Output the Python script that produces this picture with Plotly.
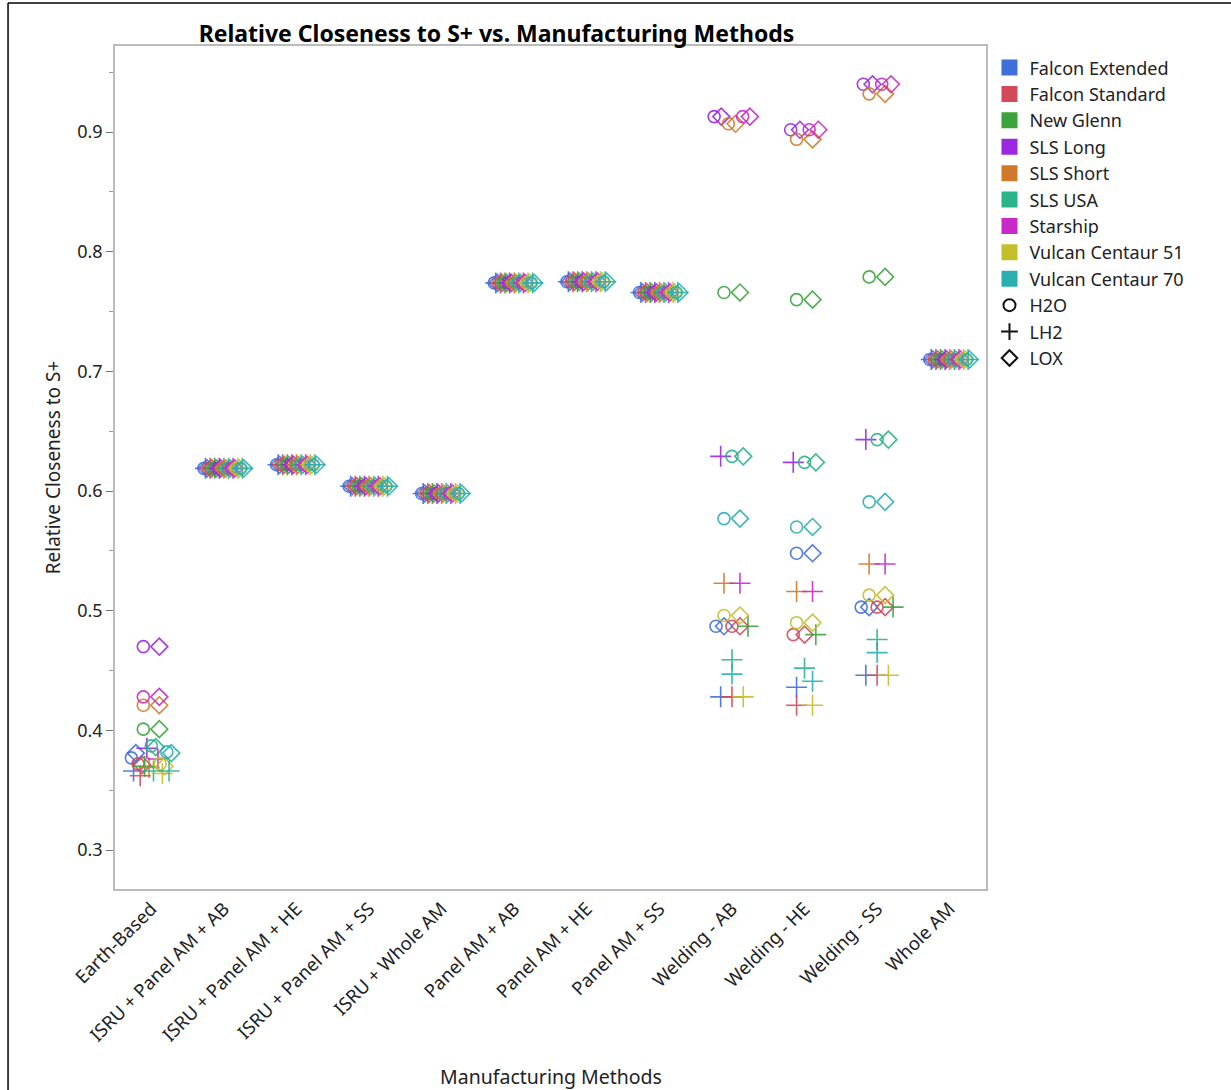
import numpy as np
import plotly.graph_objects as go

methods = ["Earth-Based", "ISRU + Panel AM + AB", "ISRU + Panel AM + HE", "ISRU + Panel AM + SS",
           "ISRU + Whole AM", "Panel AM + AB", "Panel AM + HE", "Panel AM + SS",
           "Welding - AB", "Welding - HE", "Welding - SS", "Whole AM"]
vehicles = ["Falcon Extended", "Falcon Standard", "New Glenn", "SLS Long", "SLS Short",
            "SLS USA", "Starship", "Vulcan Centaur 51", "Vulcan Centaur 70"]
propellants = ["H2O", "LH2", "LOX"]

vehicle_colors = ["#3F6FDB", "#D04A5A", "#3CA33C", "#9B27E0", "#CF7A2A",
                  "#2BB38C", "#C82AC8", "#C4BE2A", "#2AAFB0"]
prop_symbols = ["circle-open", "cross-thin-open", "diamond-open"]
prop_sizes = [12, 15, 13]

# values ordered vehicle-major: [H2O, LH2, LOX] for each vehicle
earth_based = [0.377, 0.366, 0.381, 0.372, 0.362, 0.371, 0.401, 0.370, 0.401,
               0.470, 0.385, 0.470, 0.421, 0.369, 0.421, 0.387, 0.366, 0.386,
               0.428, 0.376, 0.428, 0.372, 0.364, 0.370, 0.382, 0.366, 0.381]
isru_panel_ab = [0.619] * 27
isru_panel_he = [0.622] * 27
isru_panel_ss = [0.604] * 27
isru_whole_am = [0.598] * 27
panel_ab = [0.774] * 27
panel_he = [0.775] * 27
panel_ss = [0.766] * 27
welding_ab = [0.487, 0.428, 0.487, 0.487, 0.428, 0.487, 0.766, 0.487, 0.766,
              0.913, 0.629, 0.913, 0.907, 0.523, 0.907, 0.629, 0.459, 0.629,
              0.913, 0.523, 0.913, 0.496, 0.428, 0.496, 0.577, 0.447, 0.577]
welding_he = [0.548, 0.436, 0.548, 0.480, 0.421, 0.480, 0.760, 0.480, 0.760,
              0.902, 0.624, 0.902, 0.894, 0.516, 0.894, 0.624, 0.452, 0.624,
              0.902, 0.516, 0.902, 0.490, 0.421, 0.490, 0.570, 0.441, 0.570]
welding_ss = [0.503, 0.446, 0.503, 0.503, 0.446, 0.503, 0.779, 0.503, 0.779,
              0.940, 0.643, 0.940, 0.932, 0.539, 0.932, 0.643, 0.476, 0.643,
              0.940, 0.539, 0.940, 0.513, 0.446, 0.513, 0.591, 0.465, 0.591]
whole_am = [0.710] * 27

method_values = [earth_based, isru_panel_ab, isru_panel_he, isru_panel_ss, isru_whole_am,
                 panel_ab, panel_he, panel_ss, welding_ab, welding_he, welding_ss, whole_am]


def jitter_offsets(vals, tol=0.0065, step=0.22, max_span=0.55):
    order = sorted(range(len(vals)), key=lambda i: (vals[i], i))
    clusters, cur = [], [order[0]]
    for i in order[1:]:
        if vals[i] - vals[cur[-1]] <= tol:
            cur.append(i)
        else:
            clusters.append(cur)
            cur = [i]
    clusters.append(cur)
    off = [0.0] * len(vals)
    for c in clusters:
        n = len(c)
        if n == 1:
            continue
        span = min(max_span, step * np.sqrt(n - 1))
        for k, i in enumerate(sorted(c)):
            off[i] = -span / 2 + span * k / (n - 1)
    return off


offsets = [jitter_offsets(v) for v in method_values]

fig = go.Figure()
for vi, veh in enumerate(vehicles):
    for pi, prop in enumerate(propellants):
        idx = vi * 3 + pi
        xs = [m + offsets[m][idx] for m in range(len(methods))]
        ys = [method_values[m][idx] for m in range(len(methods))]
        fig.add_trace(go.Scatter(
            x=xs, y=ys, mode="markers", showlegend=False,
            name=f"{veh} {prop}",
            marker=dict(symbol=prop_symbols[pi], size=prop_sizes[pi],
                        color=vehicle_colors[vi], line=dict(width=1.6, color=vehicle_colors[vi]),
                        opacity=0.9),
            hovertemplate=f"{veh} / {prop}<br>%{{y:.3f}}<extra></extra>",
        ))

# legend entries
for vi, veh in enumerate(vehicles):
    fig.add_trace(go.Scatter(x=[None], y=[None], mode="markers", name=veh,
                             marker=dict(symbol="square", size=16, color=vehicle_colors[vi])))
for pi, prop in enumerate(propellants):
    fig.add_trace(go.Scatter(x=[None], y=[None], mode="markers", name=prop,
                             marker=dict(symbol=prop_symbols[pi], size=12, color="#111111",
                                         line=dict(width=2, color="#111111"))))

font_family = "Noto Sans"
fig.update_layout(
    width=1231, height=1090,
    margin=dict(l=115, r=245, t=46, b=201),
    paper_bgcolor="white", plot_bgcolor="white",
    font=dict(family=font_family, size=15, color="#222222"),
    title=dict(text="Relative Closeness to S+ vs. Manufacturing Methods",
               font=dict(family=font_family, size=23, color="#000000", weight=700),
               x=0.438, xref="paper", xanchor="center", y=1 - 34 / 1090, yref="container", yanchor="middle"),
    legend=dict(x=1.004, y=0.996, xanchor="left", yanchor="top", font=dict(size=18, color="#222222"),
                tracegroupgap=0, itemsizing="trace", bgcolor="rgba(0,0,0,0)"),
    xaxis=dict(range=[-0.5, 11.5], tickmode="array", tickvals=list(range(len(methods))),
               ticktext=methods, tickangle=-45, showgrid=False, zeroline=False,
               showline=True, linecolor="#BBBBBB", linewidth=1.5, mirror=True,
               ticks="", tickfont=dict(size=18.5, color="#222222")),
    yaxis=dict(range=[0.2674, 0.972], tickvals=[0.3, 0.4, 0.5, 0.6, 0.7, 0.8, 0.9],
               ticktext=["0.3", "0.4", "0.5", "0.6", "0.7", "0.8", "0.9"],
               showgrid=False, zeroline=False, showline=True, linecolor="#BBBBBB", linewidth=1.5,
               mirror=True, ticks="outside", ticklen=7, tickcolor="#777777", tickwidth=1,
               minor=dict(dtick=0.05, tick0=0.3, ticks="outside", ticklen=4, tickcolor="#999999", showgrid=False),
               tickfont=dict(size=18, color="#222222"),
               title=dict(text="Relative Closeness to S+", font=dict(size=19, color="#222222"), standoff=12)),
    annotations=[dict(text="Manufacturing Methods", xref="paper", yref="paper", x=0.5, y=-0.222,
                      xanchor="center", yanchor="middle", showarrow=False,
                      font=dict(size=19.5, color="#222222"))],
)

# window frame (left and top edges)
fig.add_shape(type="line", xref="paper", yref="paper", x0=-0.1228, x1=-0.1228, y0=-0.25, y1=1.051,
              line=dict(color="black", width=1.5), layer="below")
fig.add_shape(type="line", xref="paper", yref="paper", x0=-0.1228, x1=1.30, y0=1.051, y1=1.051,
              line=dict(color="black", width=1.5), layer="below")

fig.write_html("out.html", config={"displayModeBar": False},
               post_script="document.body.style.margin='0';document.body.style.overflow='hidden';")
